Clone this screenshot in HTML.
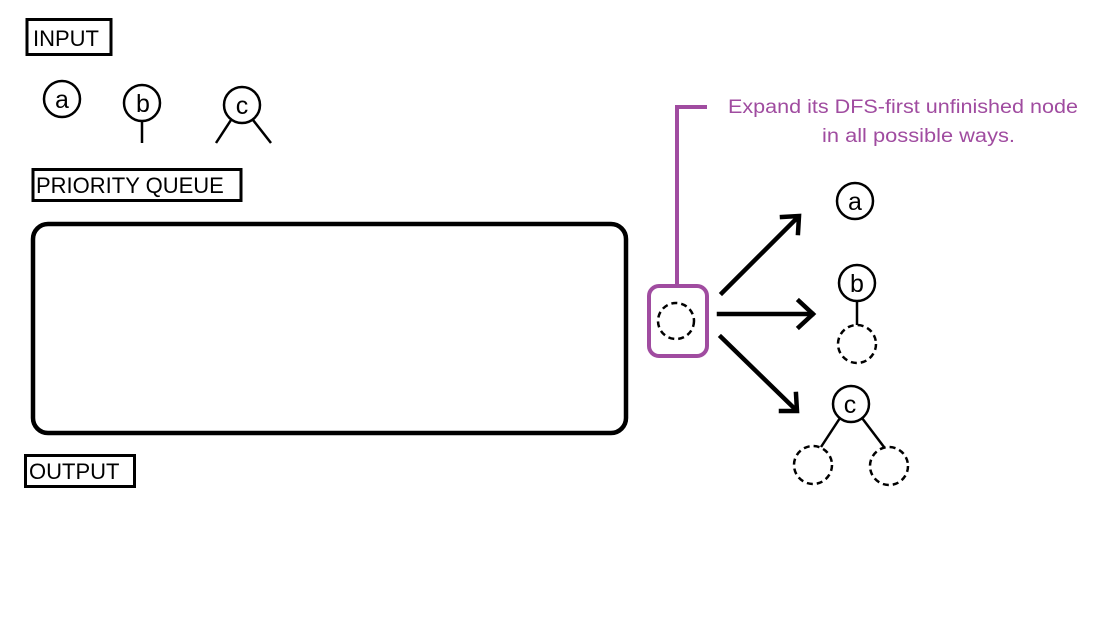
<!DOCTYPE html>
<html><head><meta charset="utf-8"><style>
html,body{margin:0;padding:0;background:#fff;width:1120px;height:620px;overflow:hidden}
svg{display:block}
text{font-family:"Liberation Sans","DejaVu Sans",sans-serif}
</style></head><body>
<svg width="1120" height="620" viewBox="0 0 1120 620" xmlns="http://www.w3.org/2000/svg">
<g fill="none" stroke="#000">
<rect x="27" y="19.5" width="84" height="35" stroke-width="3"/>
<rect x="33" y="169.5" width="208" height="31" stroke-width="3"/>
<rect x="25.5" y="455.5" width="109" height="31" stroke-width="3"/>
<rect x="33" y="224" width="593" height="209" rx="15" stroke-width="4.5"/>
<circle cx="62" cy="99" r="18" stroke-width="2.5"/>
<circle cx="142" cy="103" r="18" stroke-width="2.5"/>
<line x1="142" y1="121" x2="142" y2="143" stroke-width="2.5"/>
<circle cx="242" cy="105" r="18" stroke-width="2.5"/>
<line x1="231" y1="120" x2="216" y2="143" stroke-width="2.5"/>
<line x1="253" y1="120" x2="271" y2="143" stroke-width="2.5"/>
<g stroke-width="4.5" stroke-linecap="square">
<line x1="722" y1="293" x2="798" y2="217"/>
<polyline points="782,217 799,216 798,233"/>
<line x1="719" y1="314" x2="812" y2="314"/>
<polyline points="799,301 813,314 799,327"/>
<line x1="721" y1="337" x2="796" y2="410"/>
<polyline points="796,394 797,411 781,411"/>
</g>
<circle cx="855" cy="201" r="18" stroke-width="2.5"/>
<circle cx="857" cy="283" r="18" stroke-width="2.5"/>
<line x1="857" y1="301" x2="857" y2="325" stroke-width="2.5"/>
<circle cx="857" cy="344" r="19" stroke-width="2.5" stroke-dasharray="6,4"/>
<circle cx="851" cy="404" r="18" stroke-width="2.5"/>
<line x1="840" y1="418" x2="821" y2="447" stroke-width="2.5"/>
<line x1="862" y1="418" x2="884" y2="447" stroke-width="2.5"/>
<circle cx="813" cy="465" r="19" stroke-width="2.5" stroke-dasharray="6,4"/>
<circle cx="889" cy="466" r="19" stroke-width="2.5" stroke-dasharray="6,4"/>
<circle cx="676" cy="321" r="18" stroke-width="2.5" stroke-dasharray="6,4"/>
</g>
<g fill="none" stroke="#a04ca0" stroke-width="4">
<rect x="649" y="286" width="58" height="70" rx="10"/>
<polyline points="677,286 677,107 707,107"/>
</g>
<g font-size="22" fill="#000">
<text x="33" y="46">INPUT</text>
<text x="36" y="193">PRIORITY QUEUE</text>
<text x="29" y="479">OUTPUT</text>
</g>
<g font-size="25" fill="#000" text-anchor="middle">
<text x="62" y="108">a</text>
<text x="143" y="112">b</text>
<text x="242" y="114">c</text>
<text x="855" y="210">a</text>
<text x="857" y="292">b</text>
<text x="850" y="413">c</text>
</g>
<g font-size="19" fill="#a04ca0">
<text x="728" y="113" textLength="350" lengthAdjust="spacingAndGlyphs">Expand its DFS-first unfinished node</text>
<text x="822" y="142" textLength="193" lengthAdjust="spacingAndGlyphs">in all possible ways.</text>
</g>
</svg>
</body></html>
